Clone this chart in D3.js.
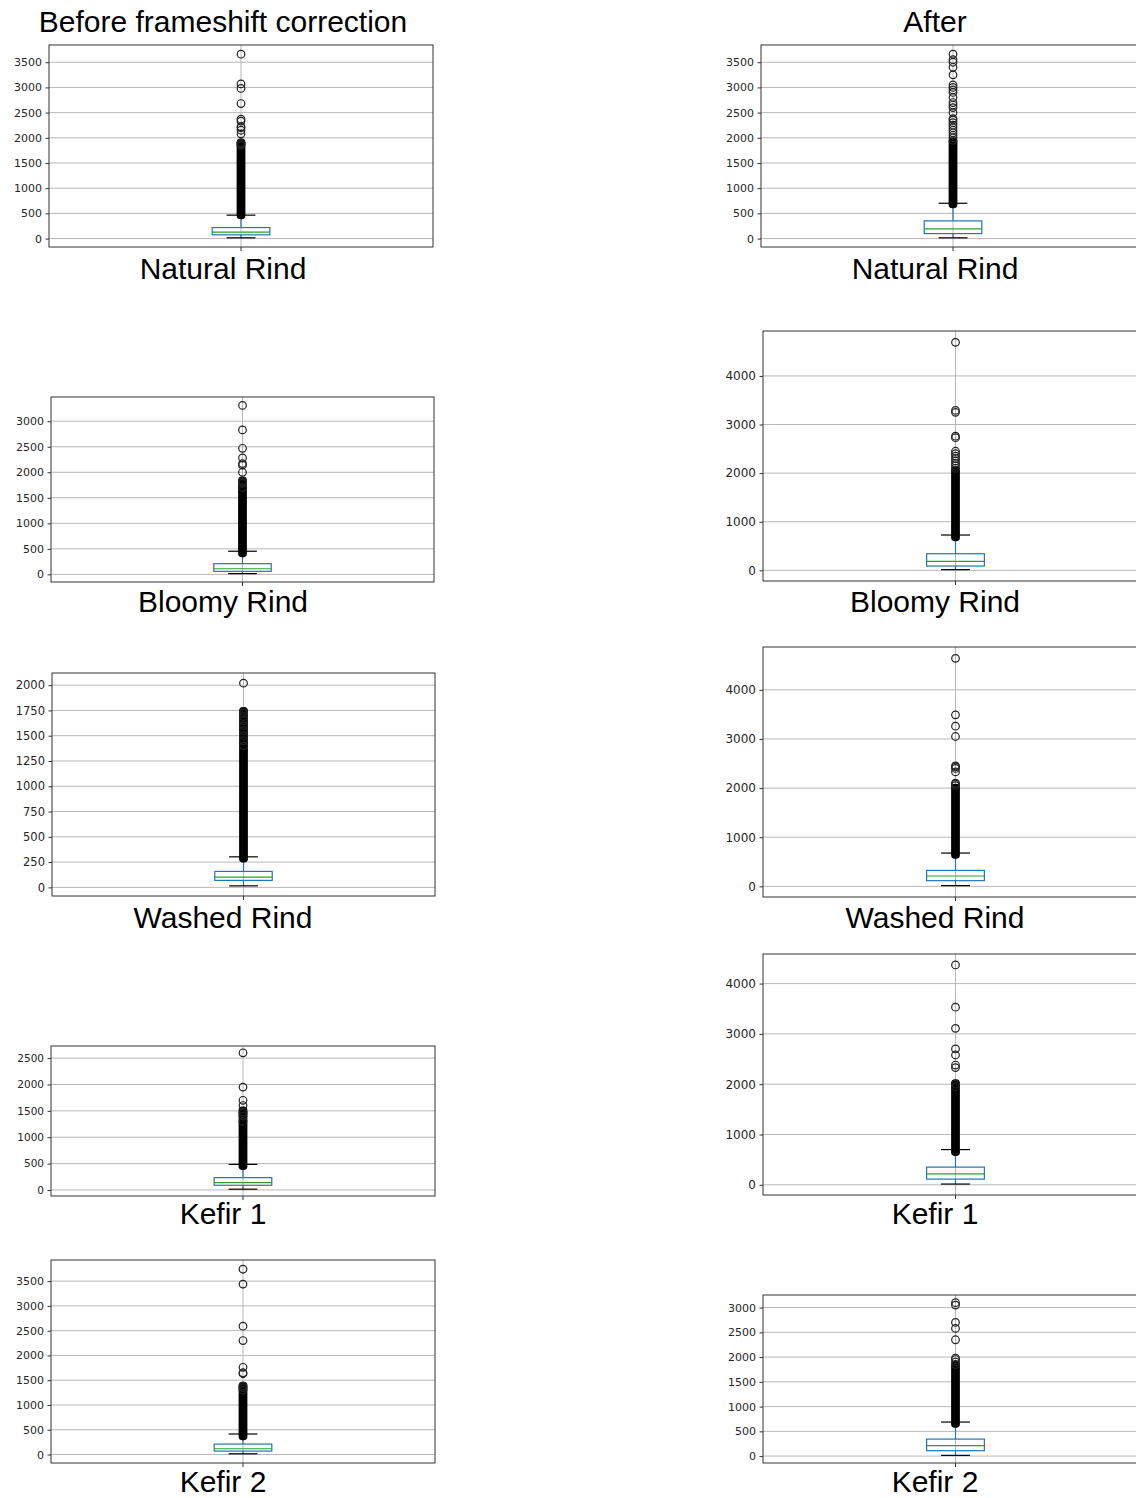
<!DOCTYPE html>
<html>
<head>
<meta charset="utf-8">
<script src="https://cdn.jsdelivr.net/npm/d3@7"></script>
<style>
  body { margin: 0; background: #fff; }
  svg { display: block; }
</style>
</head>
<body>
<svg id="chart" width="1136" height="1498"></svg>
<script>
// sample names, one row of panels each
const categories = ['Natural Rind', 'Bloomy Rind', 'Washed Rind', 'Kefir 1', 'Kefir 2'];
const columnTitles = ['Before frameshift correction', 'After'];

// box statistics: [before, after] per category
const q1Before = [74, 59, 69, 89, 69];
const medianBefore = [127, 110, 102, 140, 116];
const q3Before = [219, 209, 158, 234, 211];
const whiskerLowBefore = [15, 15, 15, 15, 15];
const whiskerHighBefore = [465, 453, 302, 485, 414];

const q1After = [99, 89, 116, 113, 109];
const medianAfter = [193, 185, 211, 218, 210];
const q3After = [351, 342, 325, 351, 344];
const whiskerLowAfter = [15, 15, 15, 15, 15];
const whiskerHighAfter = [701, 727, 678, 700, 688];

// solid runs of overlapping outlier markers: [low, high]
const denseBefore = [[470, 1900], [420, 1830], [290, 1740], [460, 1500], [375, 1380]];
const denseAfter = [[690, 1920], [690, 2050], [650, 2000], [660, 2010], [660, 1830]];

// separately visible outliers
const outliersBefore = [
  [1850, 1880, 1900, 2080, 2150, 2200, 2220, 2330, 2370, 2680, 2980, 3070, 3660],
  [1700, 1780, 1800, 1820, 2000, 2140, 2170, 2280, 2470, 2830, 3310],
  [1400, 1450, 1500, 1550, 1600, 1650, 1690, 1720, 1740, 2020],
  [1300, 1400, 1450, 1480, 1600, 1700, 1950, 2600],
  [1300, 1350, 1380, 1630, 1650, 1760, 2300, 2590, 3440, 3740]
];
const outliersAfter = [
  [1950, 2000, 2050, 2100, 2150, 2200, 2250, 2300, 2350, 2380, 2500, 2600, 2650, 2700, 2800, 2900, 2950, 3000, 3050, 3250, 3400, 3500, 3550, 3660],
  [2100, 2150, 2200, 2250, 2300, 2350, 2400, 2450, 2730, 2760, 3250, 3290, 4690],
  [2050, 2080, 2100, 2330, 2400, 2430, 2450, 3050, 3260, 3490, 4640],
  [1950, 2000, 2330, 2380, 2580, 2700, 3110, 3530, 4370],
  [1850, 1900, 1950, 1980, 2350, 2580, 2700, 3050, 3100]
];

// y tick labels per panel
const ticksBefore = [
  [0, 500, 1000, 1500, 2000, 2500, 3000, 3500],
  [0, 500, 1000, 1500, 2000, 2500, 3000],
  [0, 250, 500, 750, 1000, 1250, 1500, 1750, 2000],
  [0, 500, 1000, 1500, 2000, 2500],
  [0, 500, 1000, 1500, 2000, 2500, 3000, 3500]
];
const ticksAfter = [
  [0, 500, 1000, 1500, 2000, 2500, 3000, 3500],
  [0, 1000, 2000, 3000, 4000],
  [0, 1000, 2000, 3000, 4000],
  [0, 1000, 2000, 3000, 4000],
  [0, 500, 1000, 1500, 2000, 2500, 3000]
];

// panel frames in page pixels: [x0, x1, y0, y1], plus tick label size
const framesBefore = [[49, 433, 45, 247], [51, 434, 397, 582], [52, 435, 673, 896], [51, 435, 1046, 1196], [51, 435, 1260, 1463]];
const framesAfter = [[761, 1145, 45, 247], [763, 1148, 331, 581], [763, 1148, 647, 897], [763, 1148, 954, 1195], [763, 1148, 1295, 1463]];
const tickFontBefore = [11, 11, 11.5, 10.5, 11];
const tickFontAfter = [11, 12, 12, 12, 11];
const labelBaselines = [279, 612, 928, 1224, 1492];
const columnCenters = [223, 935];

const boxColor = '#1f77b4';
const medianColor = '#2ca02c';
const markerR = 3.8;
const bigFont = '30px';

const svg = d3.select('#chart');

columnTitles.forEach((t, c) => {
  svg.append('text')
    .attr('x', columnCenters[c])
    .attr('y', 32)
    .attr('text-anchor', 'middle')
    .style('font-family', 'Liberation Sans, Arial, sans-serif')
    .style('font-size', bigFont)
    .text(t);
});

function drawPanel(frame, stats, ticks, tickFont, label, labelX, labelY) {
  const [x0, x1, y0, y1] = frame;
  const lo = stats.whiskerLow;
  const hi = d3.max(stats.outliers.concat([stats.dense[1]]));
  const pad = (hi - lo) * 0.05;

  const y = d3.scaleLinear().domain([lo - pad, hi + pad]).range([y1, y0]);
  const x = d3.scaleLinear().domain([0.5, 1.5]).range([x0, x1]);
  const cx = x(1);
  const boxW = x(1.075) - x(0.925);

  const g = svg.append('g');

  // horizontal grid
  g.selectAll('line.grid')
    .data(ticks)
    .enter()
    .append('line')
    .attr('x1', x0).attr('x2', x1)
    .attr('y1', d => y(d)).attr('y2', d => y(d))
    .attr('stroke', '#b0b0b0')
    .attr('stroke-width', 0.9);
  // vertical grid at the box
  g.append('line')
    .attr('x1', cx).attr('x2', cx)
    .attr('y1', y0).attr('y2', y1)
    .attr('stroke', '#b0b0b0')
    .attr('stroke-width', 0.9);

  const yAxis = d3.axisLeft(y)
    .tickValues(ticks)
    .tickFormat(d3.format('d'))
    .tickSize(3.5)
    .tickPadding(3.5);
  const ax = g.append('g')
    .attr('transform', `translate(${x0},0)`)
    .call(yAxis);
  ax.select('.domain').remove();
  ax.selectAll('line').attr('stroke', '#333');
  ax.selectAll('text')
    .style('font-family', 'DejaVu Sans, sans-serif')
    .style('font-size', tickFont + 'px')
    .attr('fill', '#262626');

  // bottom tick
  g.append('line')
    .attr('x1', cx).attr('x2', cx)
    .attr('y1', y1).attr('y2', y1 + 4)
    .attr('stroke', '#333');

  // whiskers
  g.append('line')
    .attr('x1', cx).attr('x2', cx)
    .attr('y1', y(stats.q3)).attr('y2', y(stats.whiskerHigh))
    .attr('stroke', boxColor).attr('stroke-width', 1.2);
  g.append('line')
    .attr('x1', cx).attr('x2', cx)
    .attr('y1', y(stats.q1)).attr('y2', y(stats.whiskerLow))
    .attr('stroke', boxColor).attr('stroke-width', 1.2);
  // caps
  [stats.whiskerHigh, stats.whiskerLow].forEach(v => {
    g.append('line')
      .attr('x1', cx - boxW / 4).attr('x2', cx + boxW / 4)
      .attr('y1', y(v)).attr('y2', y(v))
      .attr('stroke', '#000').attr('stroke-width', 1.2);
  });

  // outliers: dense run drawn as one solid column, sparse ones as rings
  g.append('rect')
    .attr('x', cx - markerR - 0.6)
    .attr('width', 2 * markerR + 1.2)
    .attr('y', y(stats.dense[1]) - markerR - 0.6)
    .attr('height', y(stats.dense[0]) - y(stats.dense[1]) + 2 * markerR + 1.2)
    .attr('rx', markerR)
    .attr('fill', '#000');
  g.selectAll('circle.flier')
    .data(stats.outliers)
    .enter()
    .append('circle')
    .attr('cx', cx)
    .attr('cy', d => y(d))
    .attr('r', markerR)
    .attr('fill', 'none')
    .attr('stroke', '#222')
    .attr('stroke-width', 1.2);

  // box and median
  g.append('rect')
    .attr('x', cx - boxW / 2)
    .attr('width', boxW)
    .attr('y', y(stats.q3))
    .attr('height', y(stats.q1) - y(stats.q3))
    .attr('fill', 'none')
    .attr('stroke', boxColor)
    .attr('stroke-width', 1.2);
  g.append('line')
    .attr('x1', cx - boxW / 2).attr('x2', cx + boxW / 2)
    .attr('y1', y(stats.median)).attr('y2', y(stats.median))
    .attr('stroke', medianColor).attr('stroke-width', 1.2);

  // frame
  g.append('rect')
    .attr('x', x0).attr('y', y0)
    .attr('width', x1 - x0).attr('height', y1 - y0)
    .attr('fill', 'none')
    .attr('stroke', '#333')
    .attr('stroke-width', 1);

  svg.append('text')
    .attr('x', labelX)
    .attr('y', labelY)
    .attr('text-anchor', 'middle')
    .style('font-family', 'Liberation Sans, Arial, sans-serif')
    .style('font-size', bigFont)
    .text(label);
}

categories.forEach((cat, i) => {
  drawPanel(framesBefore[i], {
    q1: q1Before[i], median: medianBefore[i], q3: q3Before[i],
    whiskerLow: whiskerLowBefore[i], whiskerHigh: whiskerHighBefore[i],
    dense: denseBefore[i], outliers: outliersBefore[i]
  }, ticksBefore[i], tickFontBefore[i], cat, columnCenters[0], labelBaselines[i]);

  drawPanel(framesAfter[i], {
    q1: q1After[i], median: medianAfter[i], q3: q3After[i],
    whiskerLow: whiskerLowAfter[i], whiskerHigh: whiskerHighAfter[i],
    dense: denseAfter[i], outliers: outliersAfter[i]
  }, ticksAfter[i], tickFontAfter[i], cat, columnCenters[1], labelBaselines[i]);
});
</script>
</body>
</html>
